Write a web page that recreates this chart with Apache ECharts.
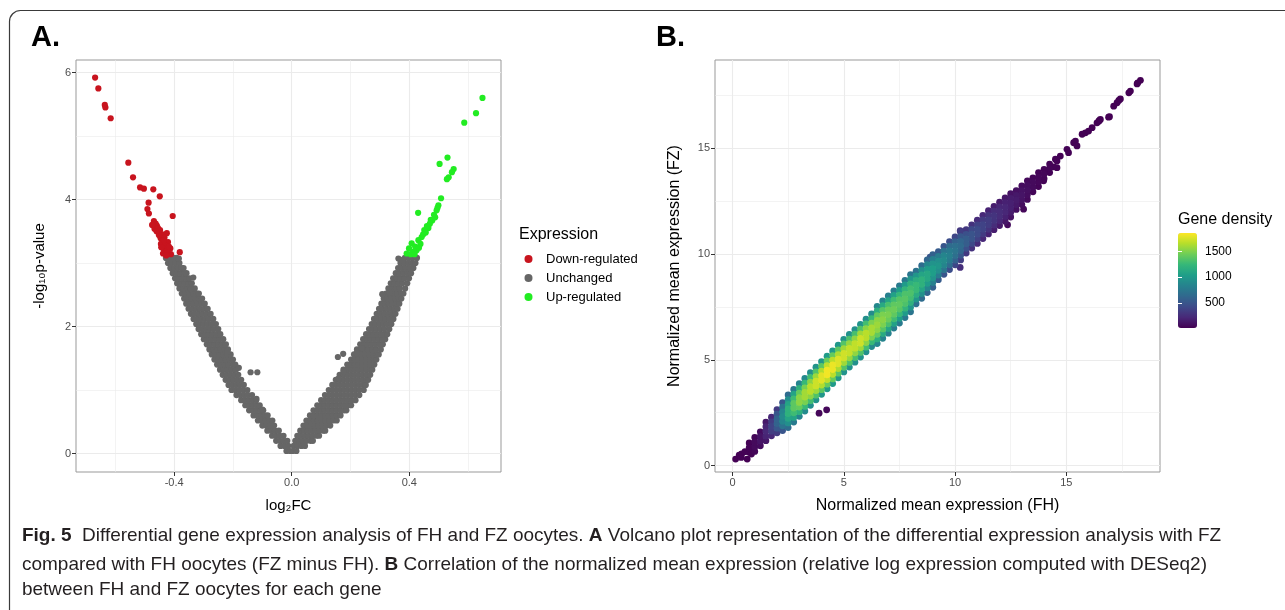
<!DOCTYPE html>
<html><head><meta charset="utf-8">
<script src="https://cdn.jsdelivr.net/npm/echarts@6/dist/echarts.min.js"></script>
<style>html,body{margin:0;padding:0;background:#fff}#c{width:1285px;height:610px}</style>
</head><body><div id="c"></div>
<script>
// ---------- tick / grid values ----------
const aXTicks = [-0.4, 0, 0.4];
const aXMinor = [-0.6, -0.2, 0.2, 0.6];
const aYTicks = [0, 2, 4, 6];
const aYMinor = [1, 3, 5];
const bTicks = [0, 5, 10, 15];
const bMinor = [2.5, 7.5, 12.5, 17.5];
const cbTicks = [500, 1000, 1500];
const legendNames = ['Down-regulated', 'Unchanged', 'Up-regulated'];

// ---------- Panel A: volcano (rows: [-log10 p, log2FC values...]) ----------
const leftArmRows = [
[0.04,-0.018,-0.006],
[0.12,-0.038,-0.025,-0.012],
[0.20,-0.053,-0.040,-0.027,-0.015],
[0.28,-0.067,-0.054,-0.041,-0.028],
[0.36,-0.083,-0.070,-0.057,-0.044],
[0.44,-0.100,-0.087,-0.074,-0.060],
[0.52,-0.115,-0.102,-0.089,-0.076,-0.066],
[0.60,-0.130,-0.117,-0.104,-0.091,-0.082],
[0.68,-0.145,-0.132,-0.119,-0.106,-0.097],
[0.76,-0.158,-0.145,-0.132,-0.119,-0.109],
[0.84,-0.172,-0.159,-0.146,-0.133,-0.121],
[0.92,-0.188,-0.175,-0.162,-0.149,-0.135],
[1.00,-0.205,-0.192,-0.179,-0.165,-0.151],
[1.08,-0.215,-0.202,-0.189,-0.176,-0.163],
[1.16,-0.225,-0.212,-0.199,-0.186,-0.172],
[1.24,-0.235,-0.222,-0.209,-0.196,-0.182],
[1.32,-0.244,-0.231,-0.218,-0.205,-0.190],
[1.40,-0.254,-0.241,-0.228,-0.215,-0.200,-0.192],
[1.48,-0.263,-0.250,-0.237,-0.224,-0.211,-0.200],
[1.56,-0.272,-0.259,-0.246,-0.233,-0.220,-0.208],
[1.64,-0.280,-0.267,-0.254,-0.241,-0.228,-0.217],
[1.72,-0.289,-0.276,-0.263,-0.250,-0.237,-0.224],
[1.80,-0.299,-0.286,-0.273,-0.260,-0.247,-0.233],
[1.88,-0.308,-0.295,-0.282,-0.269,-0.256,-0.243],
[1.96,-0.317,-0.304,-0.291,-0.278,-0.265,-0.250],
[2.04,-0.325,-0.312,-0.299,-0.286,-0.273,-0.258],
[2.12,-0.334,-0.321,-0.308,-0.295,-0.282,-0.267],
[2.20,-0.343,-0.330,-0.317,-0.304,-0.290,-0.276],
[2.28,-0.351,-0.338,-0.325,-0.312,-0.298,-0.286],
[2.36,-0.359,-0.346,-0.333,-0.320,-0.307,-0.296],
[2.44,-0.366,-0.353,-0.340,-0.327,-0.314,-0.305],
[2.52,-0.374,-0.361,-0.348,-0.335,-0.322,-0.316],
[2.60,-0.382,-0.369,-0.356,-0.343,-0.330],
[2.68,-0.390,-0.377,-0.364,-0.351,-0.340],
[2.76,-0.397,-0.384,-0.371,-0.358,-0.348],
[2.84,-0.405,-0.392,-0.379,-0.366,-0.358],
[2.92,-0.413,-0.400,-0.387,-0.374,-0.368],
[3.00,-0.421,-0.408,-0.395,-0.382],
[3.08,-0.428,-0.415,-0.402,-0.392]
];
const rightArmRows = [
[0.04,0.004,0.016],
[0.12,0.007,0.020,0.033,0.045],
[0.20,0.012,0.025,0.038,0.051,0.064,0.072],
[0.28,0.019,0.032,0.045,0.058,0.071,0.084,0.093],
[0.36,0.029,0.042,0.055,0.068,0.081,0.094,0.107,0.114],
[0.44,0.040,0.053,0.066,0.079,0.092,0.105,0.118,0.131],
[0.52,0.050,0.063,0.076,0.089,0.102,0.115,0.128,0.141,0.153],
[0.60,0.062,0.075,0.088,0.101,0.114,0.127,0.140,0.153,0.166],
[0.68,0.074,0.087,0.100,0.113,0.126,0.139,0.152,0.165,0.178,0.186],
[0.76,0.087,0.100,0.113,0.126,0.139,0.152,0.165,0.178,0.191,0.202],
[0.84,0.100,0.113,0.126,0.139,0.152,0.165,0.178,0.191,0.204,0.217],
[0.92,0.113,0.126,0.139,0.152,0.165,0.178,0.191,0.204,0.217,0.230],
[1.00,0.126,0.139,0.152,0.165,0.178,0.191,0.204,0.217,0.230,0.245],
[1.08,0.138,0.151,0.164,0.177,0.190,0.203,0.216,0.229,0.242,0.252],
[1.16,0.150,0.163,0.176,0.189,0.202,0.215,0.228,0.241,0.254,0.260],
[1.24,0.163,0.176,0.189,0.202,0.215,0.228,0.241,0.254,0.267],
[1.32,0.176,0.189,0.202,0.215,0.228,0.241,0.254,0.267,0.274],
[1.40,0.189,0.202,0.215,0.228,0.241,0.254,0.267,0.281],
[1.48,0.202,0.215,0.228,0.241,0.254,0.267,0.280,0.288],
[1.56,0.212,0.225,0.238,0.251,0.264,0.277,0.290,0.296],
[1.64,0.222,0.235,0.248,0.261,0.274,0.287,0.303],
[1.72,0.233,0.246,0.259,0.272,0.285,0.298,0.310],
[1.80,0.243,0.256,0.269,0.282,0.295,0.308,0.318],
[1.88,0.253,0.266,0.279,0.292,0.305,0.318,0.325],
[1.96,0.263,0.276,0.289,0.302,0.315,0.332],
[2.04,0.272,0.285,0.298,0.311,0.324,0.339],
[2.12,0.280,0.293,0.306,0.319,0.332,0.346],
[2.20,0.289,0.302,0.315,0.328,0.341,0.353],
[2.28,0.297,0.310,0.323,0.336,0.349,0.360],
[2.36,0.305,0.318,0.331,0.344,0.357,0.366],
[2.44,0.313,0.326,0.339,0.352,0.365,0.373],
[2.52,0.321,0.334,0.347,0.360,0.373,0.380],
[2.60,0.329,0.342,0.355,0.368,0.386],
[2.68,0.337,0.350,0.363,0.376,0.393],
[2.76,0.345,0.358,0.371,0.384,0.399],
[2.84,0.354,0.367,0.380,0.393,0.406],
[2.92,0.362,0.375,0.388,0.401,0.414],
[3.00,0.370,0.383,0.396,0.409,0.421],
[3.08,0.385,0.398,0.411,0.426]
];
const unchangedOutliers = [
[-0.335,2.77],[-0.140,1.28],[-0.117,1.28],[-0.180,1.35],[-0.120,0.86],[-0.100,0.69],
[-0.344,2.59],[-0.384,3.07],[-0.219,1.60],[0.157,1.52],[0.175,1.57],[0.308,2.51],
[0.334,2.53],[0.363,3.07],[0.376,3.05],[0.176,1.29],[0.159,1.18],[0.238,1.66],[0.221,1.58]
];
const downRegulated = [
[-0.669,5.92],[-0.658,5.75],[-0.636,5.49],[-0.634,5.45],[-0.616,5.28],[-0.556,4.58],
[-0.540,4.35],[-0.516,4.19],[-0.503,4.17],[-0.471,4.16],[-0.449,4.05],[-0.487,3.95],
[-0.491,3.85],[-0.486,3.78],[-0.405,3.74],[-0.469,3.66],[-0.459,3.59],[-0.467,3.54],
[-0.452,3.49],[-0.425,3.47],[-0.446,3.39],[-0.421,3.33],[-0.437,3.23],[-0.413,3.23],
[-0.381,3.17],[-0.429,3.18],[-0.411,3.14],[-0.463,3.62],[-0.455,3.55],[-0.448,3.52],
[-0.440,3.45],[-0.433,3.40],[-0.445,3.30],[-0.430,3.28],[-0.438,3.15],[-0.422,3.20],
[-0.452,3.44],[-0.460,3.50],[-0.475,3.60],[-0.435,3.36],[-0.418,3.26],[-0.444,3.25],[-0.427,3.12]
];
const upRegulated = [
[0.649,5.60],[0.627,5.36],[0.587,5.21],[0.530,4.66],[0.503,4.56],[0.551,4.48],
[0.545,4.43],[0.534,4.35],[0.528,4.32],[0.508,4.02],[0.430,3.79],[0.499,3.91],
[0.493,3.83],[0.484,3.76],[0.473,3.68],[0.478,3.67],[0.465,3.55],[0.451,3.52],
[0.442,3.41],[0.431,3.36],[0.408,3.31],[0.425,3.20],[0.414,3.18],[0.399,3.23],
[0.391,3.15],[0.460,3.58],[0.456,3.48],[0.447,3.45],[0.438,3.30],[0.420,3.26],
[0.433,3.24],[0.405,3.14],[0.418,3.14],[0.488,3.72],[0.470,3.62],[0.496,3.87]
];

// ---------- Panel B: columns [FH, [FZ values], [gene density]] ----------
const bColumns = [
[0.75,[0.63,0.85,1.07],[18,28,18]],
[1.00,[0.67,0.89,1.11,1.33],[35,55,55,35]],
[1.25,[0.94,1.16,1.38,1.60],[70,110,110,70]],
[1.50,[1.18,1.40,1.62,1.84,2.06],[125,195,220,195,125]],
[1.75,[1.41,1.63,1.85,2.07,2.29],[215,340,380,340,215]],
[2.00,[1.55,1.77,1.99,2.21,2.43,2.65],[330,500,590,590,500,330]],
[2.25,[1.66,1.88,2.10,2.32,2.54,2.76,2.98],[495,720,855,900,855,720,495]],
[2.50,[1.80,2.02,2.24,2.46,2.68,2.90,3.12,3.34],[660,925,1090,1190,1190,1090,925,660]],
[2.75,[2.06,2.28,2.50,2.72,2.94,3.16,3.38,3.60],[770,1080,1275,1385,1385,1275,1080,770]],
[3.00,[2.33,2.55,2.77,2.99,3.21,3.43,3.65,3.87],[850,1190,1410,1535,1535,1410,1190,850]],
[3.25,[2.58,2.80,3.02,3.24,3.46,3.68,3.90,4.12],[890,1250,1475,1600,1600,1475,1250,890]],
[3.50,[2.85,3.07,3.29,3.51,3.73,3.95,4.17,4.39],[925,1295,1530,1665,1665,1530,1295,925]],
[3.75,[3.11,3.33,3.55,3.77,3.99,4.21,4.43,4.65],[955,1340,1585,1720,1720,1585,1340,955]],
[4.00,[3.37,3.59,3.81,4.03,4.25,4.47,4.69,4.91],[990,1385,1640,1780,1780,1640,1385,990]],
[4.25,[3.63,3.85,4.07,4.29,4.51,4.73,4.95,5.17],[1015,1425,1685,1830,1830,1685,1425,1015]],
[4.50,[3.88,4.10,4.32,4.54,4.76,4.98,5.20,5.42],[1005,1410,1665,1810,1810,1665,1410,1005]],
[4.75,[4.15,4.37,4.59,4.81,5.03,5.25,5.47,5.69],[985,1380,1630,1770,1770,1630,1380,985]],
[5.00,[4.43,4.65,4.87,5.09,5.31,5.53,5.75,5.97],[960,1350,1590,1730,1730,1590,1350,960]],
[5.25,[4.66,4.88,5.10,5.32,5.54,5.76,5.98,6.20],[945,1325,1565,1700,1700,1565,1325,945]],
[5.50,[4.89,5.11,5.33,5.55,5.77,5.99,6.21,6.43],[935,1310,1545,1685,1685,1545,1310,935]],
[5.75,[5.13,5.35,5.57,5.79,6.01,6.23,6.45,6.67],[955,1340,1585,1720,1720,1585,1340,955]],
[6.00,[5.38,5.60,5.82,6.04,6.26,6.48,6.70,6.92],[925,1295,1530,1665,1665,1530,1295,925]],
[6.25,[5.63,5.85,6.07,6.29,6.51,6.73,6.95,7.17],[895,1255,1485,1615,1615,1485,1255,895]],
[6.50,[5.77,5.99,6.21,6.43,6.65,6.87,7.09,7.31,7.53],[870,1170,1405,1535,1580,1535,1405,1170,870]],
[6.75,[6.02,6.24,6.46,6.68,6.90,7.12,7.34,7.56,7.78],[840,1130,1360,1485,1530,1485,1360,1130,840]],
[7.00,[6.26,6.48,6.70,6.92,7.14,7.36,7.58,7.80,8.02],[815,1095,1315,1435,1480,1435,1315,1095,815]],
[7.25,[6.50,6.72,6.94,7.16,7.38,7.60,7.82,8.04,8.26],[790,1065,1280,1395,1440,1395,1280,1065,790]],
[7.50,[6.74,6.96,7.18,7.40,7.62,7.84,8.06,8.28,8.50],[770,1035,1245,1360,1400,1360,1245,1035,770]],
[7.75,[7.00,7.22,7.44,7.66,7.88,8.10,8.32,8.54,8.76],[755,1015,1220,1330,1370,1330,1220,1015,755]],
[8.00,[7.27,7.49,7.71,7.93,8.15,8.37,8.59,8.81,9.03],[730,985,1185,1290,1330,1290,1185,985,730]],
[8.25,[7.65,7.87,8.09,8.31,8.53,8.75,8.97,9.19],[700,980,1155,1255,1255,1155,980,700]],
[8.50,[7.91,8.13,8.35,8.57,8.79,9.01,9.23,9.45],[660,925,1090,1190,1190,1090,925,660]],
[8.75,[8.18,8.40,8.62,8.84,9.06,9.28,9.50,9.72],[615,860,1020,1110,1110,1020,860,615]],
[9.00,[8.43,8.65,8.87,9.09,9.31,9.53,9.75,9.97],[580,810,955,1040,1040,955,810,580]],
[9.25,[8.79,9.01,9.23,9.45,9.67,9.89,10.11],[540,785,930,980,930,785,540]],
[9.50,[9.04,9.26,9.48,9.70,9.92,10.14,10.36],[495,720,855,900,855,720,495]],
[9.75,[9.27,9.49,9.71,9.93,10.15,10.37,10.59],[445,650,770,810,770,650,445]],
[10.00,[9.49,9.71,9.93,10.15,10.37,10.59,10.81],[395,575,685,720,685,575,395]],
[10.25,[9.72,9.94,10.16,10.38,10.60,10.82,11.04],[350,510,610,640,610,510,350]],
[10.50,[10.05,10.27,10.49,10.71,10.93,11.15],[310,465,550,550,465,310]],
[10.75,[10.28,10.50,10.72,10.94,11.16,11.38],[275,415,490,490,415,275]],
[11.00,[10.50,10.72,10.94,11.16,11.38,11.60],[240,365,430,430,365,240]],
[11.25,[10.73,10.95,11.17,11.39,11.61,11.83],[215,325,380,380,325,215]],
[11.50,[10.95,11.17,11.39,11.61,11.83,12.05],[185,280,335,335,280,185]],
[11.75,[11.15,11.37,11.59,11.81,12.03,12.25],[160,245,290,290,245,160]],
[12.00,[11.35,11.57,11.79,12.01,12.23,12.45],[140,210,245,245,210,140]],
[12.25,[11.55,11.77,11.99,12.21,12.43,12.65],[120,180,210,210,180,120]],
[12.50,[11.75,11.97,12.19,12.41,12.63,12.85],[100,150,175,175,150,100]],
[12.75,[12.11,12.33,12.55,12.77,12.99],[85,130,145,130,85]],
[13.00,[12.34,12.56,12.78,13.00,13.22],[65,100,110,100,65]],
[13.25,[12.58,12.80,13.02,13.24,13.46],[50,75,85,75,50]],
[13.50,[12.94,13.16,13.38,13.60],[35,58,58,35]],
[13.75,[13.19,13.41,13.63,13.85],[28,43,43,28]],
[14.00,[13.56,13.78,14.00],[25,35,25]],
[14.25,[13.85,14.05,14.25],[20,28,20]]
];
const bSparse = [
[0.14,0.31,12],[0.39,0.39,14],[0.66,0.31,12],[0.41,0.55,16],[0.56,0.66,18],[0.30,0.50,12],[0.85,0.55,18],
[3.89,2.48,40],[4.23,2.64,45],[12.36,11.38,60],[13.08,12.12,40],[10.23,9.37,250],[8.88,9.85,500],[10.23,11.10,300],
[14.13,13.93,20],[14.43,14.12,18],[13.98,13.46,20],[14.51,14.48,16],[14.58,14.40,16],[14.58,14.08,15],
[14.73,14.63,15],[15.03,14.95,14],[15.10,14.79,14],[15.33,15.26,13],[15.41,15.34,13],[15.48,15.11,13],
[15.71,15.66,12],[15.86,15.73,12],[16.00,15.81,12],[16.16,15.97,12],[16.38,16.20,11],[16.46,16.28,11],
[16.49,16.32,11],[16.53,16.36,11],[16.90,16.47,11],[16.94,16.49,11],[17.13,16.99,10],[17.28,17.15,10],
[17.36,17.26,10],[17.43,17.33,10],[17.81,17.62,10],[17.88,17.70,10],[18.18,18.04,10],[18.21,18.09,10],[18.33,18.21,10]
];
const densityRange = [10, 1860];
const viridis = ['#440154','#482878','#3e4a89','#31688e','#26828e','#1f9e89','#35b779','#6ece58','#b5de2b','#fde725'];

// ---------- caption ----------
const captionLines = [
  [['b','Fig. 5'],['r','  Differential gene expression analysis of FH and FZ oocytes. '],['b','A'],['r',' Volcano plot representation of the differential expression analysis with FZ']],
  [['r','compared with FH oocytes (FZ minus FH). '],['b','B'],['r',' Correlation of the normalized mean expression (relative log expression computed with DESeq2)']],
  [['r','between FH and FZ oocytes for each gene']]
];

// ---------- build ----------
const FONT = '"Liberation Sans", Arial, sans-serif';
const CAP_FONT = '"Liberation Sans Narrow", "Liberation Sans", sans-serif';

const unchanged = [];
leftArmRows.concat(rightArmRows).forEach(r => { for (let i = 1; i < r.length; i++) unchanged.push([r[i], r[0]]); });
unchangedOutliers.forEach(p => unchanged.push(p));

const bPoints = [];
bColumns.forEach(c => c[1].forEach((y, i) => bPoints.push([c[0], y, c[2][i]])));
bSparse.forEach(p => bPoints.push(p));
bPoints.sort((a, b) => a[2] - b[2]);

const mctx = document.createElement('canvas').getContext('2d');
function lineWidth(line, size) {
  let w = 0;
  line.forEach(s => { mctx.font = (s[0] === 'b' ? 'bold ' : '') + size + 'px ' + CAP_FONT; w += mctx.measureText(s[1]).width; });
  return w;
}
const capSize = 100 * 1200 / lineWidth(captionLines[0], 100);
const capRich = {
  b: { fontWeight: 'bold', fontSize: capSize, fontFamily: CAP_FONT, fill: '#231f20' },
  r: { fontWeight: 'normal', fontSize: capSize, fontFamily: CAP_FONT, fill: '#231f20' }
};
const capY = [536, 564.5, 590];

function gridLines(major, minor, axisKey) {
  return major.map(v => ({ [axisKey]: v, lineStyle: { width: 1.1 } }))
    .concat(minor.map(v => ({ [axisKey]: v, lineStyle: { width: 0.6 } })));
}
function gridSeries(idx, xMaj, xMin, yMaj, yMin) {
  return {
    type: 'scatter', xAxisIndex: idx, yAxisIndex: idx, data: [], silent: true,
    markLine: {
      silent: true, z: 1, animation: false, symbol: ['none', 'none'], label: { show: false },
      lineStyle: { color: '#ebebeb', type: 'solid' },
      data: gridLines(xMaj, xMin, 'xAxis').concat(gridLines(yMaj, yMin, 'yAxis'))
    }
  };
}
function valueAxis(idx, min, max, ticks, fmt, name, nameGap, nameSize) {
  return {
    gridIndex: idx, type: 'value', min: min, max: max,
    axisLine: { show: false, onZero: false },
    axisTick: { show: true, customValues: ticks, length: 4, lineStyle: { color: '#333', width: 1 } },
    axisLabel: { customValues: ticks, formatter: fmt, color: '#4d4d4d', fontSize: 11, margin: 5, fontFamily: FONT },
    splitLine: { show: false },
    name: name, nameLocation: 'middle', nameGap: nameGap,
    nameTextStyle: { fontSize: nameSize, color: '#000', fontFamily: FONT }
  };
}

const chart = echarts.init(document.getElementById('c'), null, { renderer: 'canvas' });
const graphics = [
  { type: 'rect', silent: true, z: -10, shape: { x: 9.5, y: 10.5, width: 1400, height: 800, r: 11 },
    style: { fill: 'none', stroke: '#3a3a3a', lineWidth: 1.2 } },
  { type: 'text', x: 31, y: 38, style: { text: 'A.', fontSize: 29, fontWeight: 'bold', fontFamily: FONT, fill: '#000', verticalAlign: 'middle' } },
  { type: 'text', x: 656, y: 38, style: { text: 'B.', fontSize: 29, fontWeight: 'bold', fontFamily: FONT, fill: '#000', verticalAlign: 'middle' } },
  { type: 'text', x: 519, y: 235, style: { text: 'Expression', fontSize: 16, fontFamily: FONT, fill: '#000', verticalAlign: 'middle' } },
  { type: 'text', x: 1178, y: 220, style: { text: 'Gene density', fontSize: 16, fontFamily: FONT, fill: '#000', verticalAlign: 'middle' } }
];
captionLines.forEach((line, i) => {
  graphics.push({ type: 'text', x: 22, y: capY[i], style: {
    text: line.map(s => '{' + s[0] + '|' + s[1] + '}').join(''),
    rich: capRich, fontSize: capSize, fontFamily: CAP_FONT, verticalAlign: 'middle', fill: '#231f20' } });
});

const option = {
  animation: false,
  backgroundColor: '#fff',
  textStyle: { fontFamily: FONT },
  graphic: graphics,
  grid: [
    { left: 76, top: 60, width: 425, height: 412, show: true, backgroundColor: '#fff', borderColor: '#999', borderWidth: 1 },
    { left: 715, top: 60, width: 445, height: 412, show: true, backgroundColor: '#fff', borderColor: '#999', borderWidth: 1 },
    { left: 1178, top: 233, width: 19, height: 95, show: false }
  ],
  xAxis: [
    valueAxis(0, -0.734, 0.712, aXTicks, v => v.toFixed(1), 'log₂FC', 26, 15),
    valueAxis(1, -0.787, 19.21, bTicks, v => String(v), 'Normalized mean expression (FH)', 26, 16),
    { gridIndex: 2, type: 'value', show: false, min: 0, max: 1 }
  ],
  yAxis: [
    valueAxis(0, -0.291, 6.197, aYTicks, v => String(v), '-log₁₀p-value', 29, 15),
    valueAxis(1, -0.30, 19.17, bTicks, v => String(v), 'Normalized mean expression (FZ)', 32, 16),
    { gridIndex: 2, type: 'value', min: densityRange[0], max: densityRange[1], position: 'right', z: 10,
      axisLine: { show: false }, splitLine: { show: false },
      axisTick: { show: true, inside: true, length: 4, customValues: cbTicks, lineStyle: { color: '#fff', width: 1 } },
      axisLabel: { customValues: cbTicks, formatter: v => String(v), fontSize: 12, color: '#000', margin: 8, fontFamily: FONT } },
    { gridIndex: 2, type: 'value', min: densityRange[0], max: densityRange[1], position: 'left', z: 10,
      axisLine: { show: false }, splitLine: { show: false }, axisLabel: { show: false },
      axisTick: { show: true, inside: true, length: 4, customValues: cbTicks, lineStyle: { color: '#fff', width: 1 } } }
  ],
  legend: {
    data: legendNames, orient: 'vertical', left: 524.5, top: 252.5, padding: 0,
    icon: 'circle', itemWidth: 21, itemHeight: 8, itemGap: 6, selectedMode: false,
    textStyle: { fontSize: 13, lineHeight: 13, color: '#000', fontFamily: FONT, padding: [0, 0, 0, 2] }
  },
  visualMap: {
    type: 'continuous', seriesIndex: 5, dimension: 2, min: densityRange[0], max: densityRange[1],
    inRange: { color: viridis }, left: 1178, top: 233, itemWidth: 19, itemHeight: 95,
    calculable: false, padding: 0, hoverLink: false, text: null
  },
  series: [
    gridSeries(0, aXTicks, aXMinor, aYTicks, aYMinor),
    gridSeries(1, bTicks, bMinor, bTicks, bMinor),
    { name: 'Unchanged', type: 'scatter', xAxisIndex: 0, yAxisIndex: 0, z: 3, symbolSize: 6.2,
      itemStyle: { color: '#666666', opacity: 1 }, data: unchanged },
    { name: 'Down-regulated', type: 'scatter', xAxisIndex: 0, yAxisIndex: 0, z: 3, symbolSize: 6.2,
      itemStyle: { color: '#c8141e', opacity: 1 }, data: downRegulated },
    { name: 'Up-regulated', type: 'scatter', xAxisIndex: 0, yAxisIndex: 0, z: 3, symbolSize: 6.2,
      itemStyle: { color: '#22ec22', opacity: 1 }, data: upRegulated },
    { name: 'Gene density', type: 'scatter', xAxisIndex: 1, yAxisIndex: 1, z: 3, symbolSize: 6.8,
      itemStyle: { opacity: 1 }, data: bPoints }
  ]
};
chart.setOption(option);
</script>
</body></html>
